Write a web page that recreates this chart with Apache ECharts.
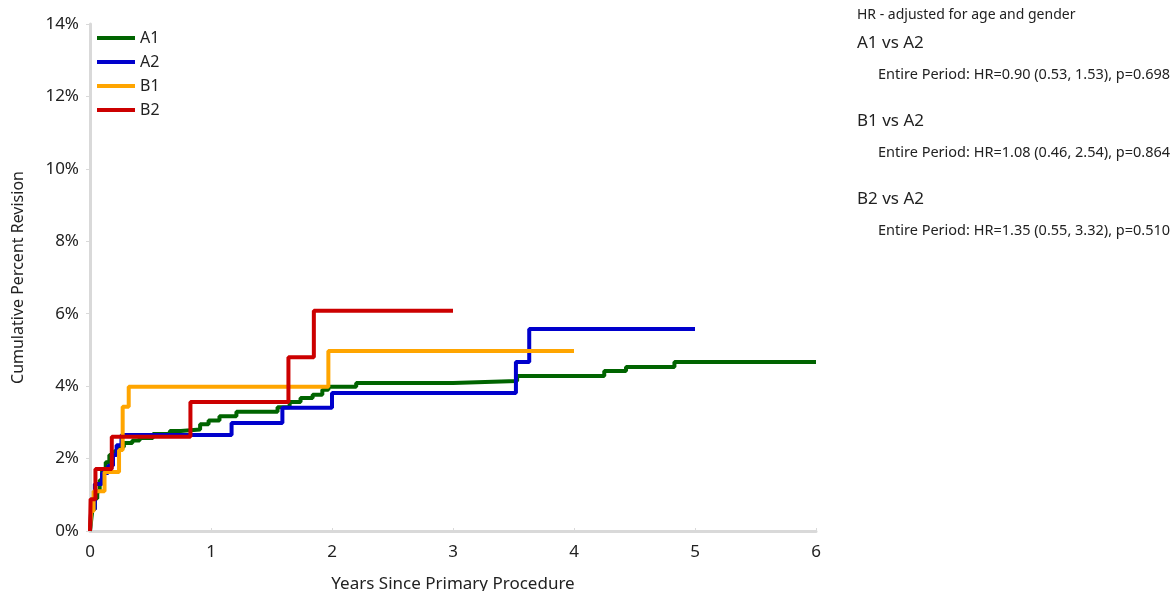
<!DOCTYPE html>
<html><head><meta charset="utf-8">
<script src="https://cdn.jsdelivr.net/npm/echarts@6/dist/echarts.min.js"></script>
<style>html,body{margin:0;padding:0;background:#fff}#c{width:1172px;height:591px}</style>
</head><body><div id="c"></div>
<script>
const seriesNames = ['A1','A2','B1','B2'];
const colors = ['#006400','#0000CC','#FFA500','#CC0000'];
// [years, cumulative percent]
const A1 = [[0,0],[0.01,0.3],[0.02,0.6],[0.04,0.9],[0.06,1.1],[0.08,1.4],[0.1,1.7],[0.13,1.9],[0.16,2.1],[0.2,2.2],[0.24,2.32],[0.28,2.43],[0.35,2.5],[0.41,2.57],[0.52,2.68],[0.66,2.76],[0.75,2.8],[0.91,2.95],[0.98,3.05],[1.07,3.17],[1.21,3.29],[1.55,3.42],[1.65,3.56],[1.74,3.67],[1.84,3.76],[1.92,3.9],[1.97,3.98],[2.2,4.09],[3.0,4.14],[3.53,4.28],[4.25,4.42],[4.43,4.53],[4.83,4.67],[6.0,4.67]];
const A2 = [[0,0],[0.01,0.6],[0.04,1.3],[0.1,1.6],[0.15,1.8],[0.19,2.1],[0.22,2.37],[0.26,2.65],[1.17,2.98],[1.59,3.4],[2.0,3.81],[3.52,4.67],[3.63,5.58],[5.0,5.58]];
const B1 = [[0,0],[0.01,0.55],[0.03,1.1],[0.12,1.63],[0.24,2.24],[0.27,3.43],[0.32,3.98],[1.97,4.97],[4.0,4.97]];
const B2 = [[0,0],[0.005,0.88],[0.045,1.71],[0.18,2.6],[0.83,3.56],[1.64,4.8],[1.85,6.08],[3.0,6.08]];
const seriesData = [A1,A2,B1,B2];
const xTicks = [0,1,2,3,4,5,6];
const yTicks = [0,2,4,6,8,10,12,14];
const hrTitle = 'HR - adjusted for age and gender';
const comparisons = ['A1 vs A2','B1 vs A2','B2 vs A2'];
const hrLines = ['Entire Period: HR=0.90 (0.53, 1.53), p=0.698','Entire Period: HR=1.08 (0.46, 2.54), p=0.864','Entire Period: HR=1.35 (0.55, 3.32), p=0.510'];

const FONT = '"Noto Sans", "Open Sans", sans-serif';
const chart = echarts.init(document.getElementById('c'));
const graphics = [{type:'text',left:857,top:8,style:{text:hrTitle,font:'14px '+FONT,fill:'#222'}}];
comparisons.forEach((c,i)=>{
  graphics.push({type:'text',left:857,top:35+i*78,style:{text:c,font:'17px '+FONT,fill:'#222'}});
  graphics.push({type:'text',left:878,top:67+i*78,style:{text:hrLines[i],font:'14.5px '+FONT,fill:'#222'}});
});
chart.setOption({
  animation:false,
  textStyle:{fontFamily:FONT},
  grid:{left:90,right:356,top:24,bottom:60,containLabel:false,outerBoundsMode:'none'},
  legend:{orient:'vertical',left:92,top:25,itemWidth:38,itemHeight:4,itemGap:8,icon:'rect',
    textStyle:{fontSize:16,color:'#222',fontFamily:FONT,padding:[9,0,0,0]},data:seriesNames},
  xAxis:{type:'value',min:0,max:6,interval:1,name:'Years Since Primary Procedure',nameLocation:'middle',nameGap:45,
    nameTextStyle:{fontSize:17,color:'#222'},
    axisLine:{show:true,lineStyle:{color:'#d9d9d9',width:3}},axisTick:{show:true,inside:true,length:3,lineStyle:{color:'#d9d9d9'}},
    axisLabel:{fontSize:17,color:'#222',margin:13,formatter:v=>xTicks.includes(v)?String(v):''},splitLine:{show:false}},
  yAxis:{type:'value',min:0,max:14,interval:2,name:'Cumulative Percent Revision',nameLocation:'middle',nameGap:64,
    nameTextStyle:{fontSize:16,color:'#222'},
    axisLine:{show:true,lineStyle:{color:'#d9d9d9',width:3}},axisTick:{show:true,length:4,lineStyle:{color:'#d9d9d9'}},
    axisLabel:{fontSize:17,color:'#222',margin:11,formatter:v=>yTicks.includes(v)?v+'%':''},splitLine:{show:false}},
  series:seriesData.map((d,i)=>({name:seriesNames[i],type:'line',step:'end',data:d,symbol:'none',
    lineStyle:{width:4,color:colors[i]},itemStyle:{color:colors[i]},z:2+i})),
  graphic:graphics
});
</script></body></html>
